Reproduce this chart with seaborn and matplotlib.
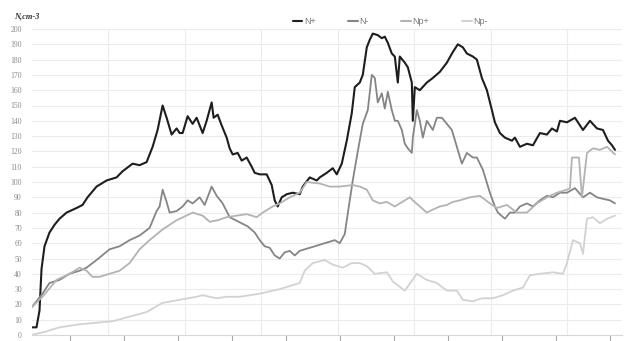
import numpy as np
import pandas as pd
import seaborn as sns
import matplotlib.pyplot as plt
from matplotlib.ticker import MultipleLocator, FixedLocator

# Concentration records (time offset, N in cm^-3) for each species
t_np = [0, 5, 8, 10, 13, 18, 23, 28, 35, 45, 51, 56, 65, 75, 85, 91, 101, 108, 115, 121, 126,
        131, 135, 140, 145, 148, 151, 156, 161, 165, 171, 175, 180, 182, 186, 190, 195, 198,
        201, 206, 210, 215, 220, 223, 228, 235, 240, 243, 246, 250, 255, 261, 268, 271, 278,
        285, 288, 295, 301, 305, 310, 315, 320, 323, 328, 331, 335, 338, 341, 346, 350, 353,
        356, 360, 363, 366, 368, 373, 376, 380, 381, 383, 388, 395, 401, 408, 415, 421, 426,
        431, 435, 441, 445, 450, 455, 460, 463, 468, 473, 480, 483, 488, 495, 501, 508, 515,
        520, 525, 528, 535, 543, 551, 558, 565, 571, 576, 580, 583]
n_plus = [5, 5, 16, 43, 58, 67, 72, 76, 80, 83, 85, 90, 97, 101, 103, 107, 112, 111, 113, 123,
          134, 150, 142, 131, 135, 132, 132, 143, 138, 142, 132, 140, 152, 142, 144, 137, 129,
          122, 118, 119, 114, 116, 110, 106, 105, 105, 98, 88, 84, 90, 92, 93, 92, 97, 103,
          101, 103, 106, 109, 105, 112, 127, 145, 162, 165, 170, 188, 193, 197, 196, 194, 195,
          191, 184, 182, 165, 182, 178, 175, 165, 140, 162, 160, 165, 168, 172, 178, 185, 190,
          188, 184, 182, 180, 168, 160, 147, 139, 132, 129, 127, 129, 123, 125, 124, 132, 131,
          135, 133, 140, 139, 142, 134, 140, 135, 134, 127, 124, 121]

t_nm = [0, 11, 18, 28, 38, 48, 55, 65, 78, 88, 98, 108, 118, 125, 128, 131, 135, 138, 145, 151,
        156, 161, 168, 173, 180, 185, 191, 198, 204, 210, 216, 223, 228, 233, 238, 243, 248,
        253, 258, 263, 268, 273, 283, 293, 303, 308, 313, 315, 321, 326, 331, 336, 340, 343,
        346, 350, 353, 356, 360, 363, 366, 370, 373, 376, 380, 381, 385, 388, 391, 395, 401,
        405, 410, 415, 420, 425, 430, 435, 441, 445, 451, 458, 463, 466, 473, 478, 483, 488,
        495, 501, 508, 515, 521, 528, 535, 543, 551, 558, 565, 571, 578, 583]
n_minus = [18, 27, 34, 36, 40, 42, 44, 49, 56, 58, 62, 65, 70, 81, 84, 95, 87, 80, 81, 84, 88,
           86, 90, 85, 97, 91, 86, 77, 75, 73, 71, 67, 62, 58, 57, 52, 50, 54, 55, 52, 55, 56,
           58, 60, 62, 60, 66, 75, 101, 120, 138, 147, 170, 168, 152, 158, 148, 159, 147, 140,
           140, 134, 125, 122, 119, 129, 147, 140, 129, 140, 134, 142, 142, 138, 134, 123, 112,
           119, 116, 116, 108, 93, 84, 80, 76, 80, 80, 84, 86, 84, 88, 91, 90, 93, 93, 96, 90,
           93, 90, 89, 88, 86]

t_npp = [0, 11, 25, 38, 48, 55, 61, 68, 78, 88, 98, 108, 118, 131, 145, 161, 171, 178, 186, 195,
         205, 215, 225, 231, 241, 248, 258, 268, 275, 288, 298, 308, 321, 328, 335, 341, 348,
         355, 363, 368, 373, 378, 381, 388, 395, 401, 408, 415, 421, 428, 438, 448, 458, 465,
         475, 485, 495, 505, 515, 525, 535, 538, 540, 547, 550, 555, 561, 568, 575, 583]
np_plus = [18, 25, 36, 40, 44, 42, 38, 38, 40, 42, 47, 56, 62, 69, 75, 80, 78, 74, 75, 77, 78,
           79, 77, 80, 84, 86, 90, 93, 100, 99, 97, 97, 98, 97, 95, 88, 86, 87, 84, 86, 88, 90,
           88, 84, 80, 82, 84, 85, 87, 88, 90, 91, 86, 83, 85, 80, 80, 86, 90, 93, 95, 96, 116,
           116, 90, 119, 122, 121, 123, 118]

t_npm = [0, 13, 28, 48, 65, 81, 98, 115, 131, 148, 165, 171, 185, 195, 208, 228, 248, 263, 268,
         273, 281, 293, 301, 311, 320, 328, 335, 343, 355, 361, 373, 385, 395, 405, 415, 425,
         431, 441, 450, 461, 471, 481, 491, 498, 508, 521, 531, 535, 541, 548, 551, 555, 561,
         568, 575, 583]
np_minus = [0, 2, 5, 7, 8, 9, 12, 15, 21, 23, 25, 26, 24, 25, 25, 27, 30, 33, 34, 42, 47, 49,
            46, 44, 47, 47, 45, 40, 41, 35, 29, 40, 36, 34, 29, 29, 23, 22, 24, 24, 26, 29, 31,
            39, 40, 41, 40, 47, 62, 60, 53, 76, 77, 73, 76, 78]

series_names = ["N+", "N-", "Np+", "Np-"]
series_colors = ["#1e1e1e", "#858585", "#b3b3b3", "#d2d2d2"]
series_widths = [1.5, 1.3, 1.3, 1.3]
y_ticks = list(range(0, 201, 10))

frames = []
for name, t, v in zip(series_names,
                      [t_np, t_nm, t_npp, t_npm],
                      [n_plus, n_minus, np_plus, np_minus]):
    frames.append(pd.DataFrame({"t": t, "N": v, "series": name}))
df = pd.concat(frames, ignore_index=True)

sns.set_theme(style="white")
plt.rcParams["font.family"] = ["Liberation Sans", "DejaVu Sans"]

fig = plt.figure(figsize=(6.27, 3.41), dpi=100)
ax = fig.add_axes([31.5 / 627, 6 / 341, 590.5 / 627, 306 / 341])

sns.lineplot(data=df, x="t", y="N", hue="series", hue_order=series_names,
             palette=series_colors, estimator=None, sort=False, ax=ax, legend=True)
for line, lw in zip(ax.get_lines(), series_widths):
    line.set_linewidth(lw)
    line.set_solid_joinstyle("round")

ax.set_xlim(0, 590)
ax.set_ylim(0, 200)
ax.set_xlabel("")
ax.set_ylabel("")

# grid: horizontal every 10 units, vertical every 76.5 time units
ax.yaxis.set_major_locator(FixedLocator(y_ticks))
ax.xaxis.set_major_locator(FixedLocator(np.arange(76.5, 590, 76.5)))
ax.xaxis.set_minor_locator(FixedLocator(np.arange(38.5, 590, 54)))
ax.grid(True, which="major", color="#ececec", linewidth=0.8)
ax.set_axisbelow(True)
ax.tick_params(axis="x", which="major", length=0, labelbottom=False)
ax.tick_params(axis="x", which="minor", length=5, width=0.8, color="#a8a8a8",
               direction="out", bottom=True)
ax.tick_params(axis="y", length=0, pad=7, labelsize=5.5, labelcolor="#8a8a8a")
for lab in ax.get_yticklabels():
    lab.set_family(["Liberation Serif", "DejaVu Serif"])

for side in ["top", "right", "left"]:
    ax.spines[side].set_visible(False)
ax.spines["bottom"].set_color("#d8d8d8")
ax.spines["bottom"].set_linewidth(0.8)

fig.text(14 / 627, 1 - 16 / 341, "N,cm-3", fontsize=6, fontweight="bold",
         fontstyle="italic", family=["Liberation Serif", "DejaVu Serif"],
         color="#333333", va="center", ha="left")

handles, labels = ax.get_legend_handles_labels()
ax.legend(handles, labels, loc="center", bbox_to_anchor=(390 / 627, 1 - 22 / 341),
          bbox_transform=fig.transFigure, ncol=4, frameon=False, fontsize=6.5,
          handlelength=1.1, handletextpad=0.15, columnspacing=3.6, labelcolor="#7a7a7a")

fig.savefig("out.png", dpi=100, facecolor="white")
